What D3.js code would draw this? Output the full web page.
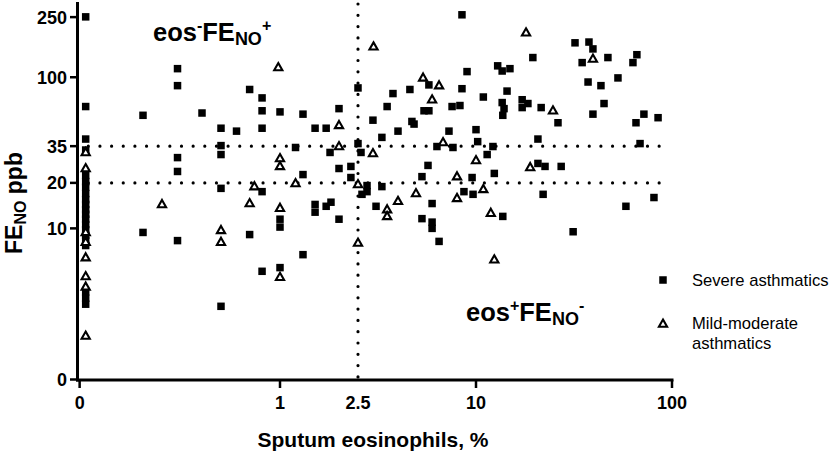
<!DOCTYPE html>
<html>
<head>
<meta charset="utf-8">
<script src="https://cdn.jsdelivr.net/npm/d3@7"></script>
<style>
  body { margin: 0; background: #fff; }
  text { font-family: "Liberation Sans", Arial, sans-serif; fill: #000; }
</style>
</head>
<body>
<div id="chart"></div>
<script>
// sputum eosinophils (%) , FeNO (ppb) — 0 % plotted on the "0" column
const severe = [
  [0,251],[0,64],[0,39],[0,33],[0,22.4],[0,20.4],[0,18.7],[0,17],[0,15.5],[0,14.4],[0,13.3],
  [0,12.4],[0,11.5],[0,10.6],[0,9.8],[0,9.0],[0,8.3],[0,7.7],[0,3.8],[0,3.45],[0,3.15],
  [0.2,56],[0.3,114],[0.3,88],[0.4,58],[0.5,46],[0.6,44],[0.5,35.3],[0.5,30.8],[0.3,29.4],
  [0.3,23.8],[0.7,83],[0.81,73],[0.81,60],[0.81,46],[1,59],[0.5,18.4],[0.81,17.5],[0.2,9.4],
  [0.3,8.3],[0.7,9.1],[0.81,5.2],[0.5,3.05],[1,11.5],[1,10.2],[1,5.5],
  [1.31,57],[1.2,34.3],[1.31,22.7],[1.51,46],[1.72,46],[2,62],[1.8,31.8],[2,24.9],[2.3,25.7],
  [2.3,21.7],[2.5,85],[2.5,36.4],[2.59,31.8],[2.98,52],[3.31,40],[3.52,64],[3.77,78],[4,44],
  [4.6,83],[4.71,51],[4.83,49],[5.43,60],[5.75,60],[5.75,89],[6.32,34.8],[7.28,44],[7.63,34.3],
  [5.69,26.1],[5.3,22],[7.55,64],[8.28,65],[8.48,259],[9,109],[8.48,84],[10,45],[10.2,37.5],
  [10.9,74],[12.2,34.8],[11.4,30.8],[9.55,21.7],[12.4,23.1],[12.9,119],[13.6,110],[14.9,114],
  [14.4,81],[13.6,68],[13.9,62],[13.7,56],[17.2,71],[17.2,63],[18.4,67],[19.5,135],[21.5,63],
  [20.7,39],[20.7,26.9],[22.5,25.7],[22,16.8],[26.2,50],[27.2,25.7],
  [2.78,19.2],[2.78,17.5],[3.31,18.9],[2.62,16.8],[1.51,14.4],[1.51,12.8],[1.72,14],[1.82,14.9],
  [2,11.5],[1.31,6.7],[3.09,14],[5.3,11.6],[5.97,14.6],[5.97,11],[5.97,10],[6.48,8.2],
  [8.68,17.5],[9.66,16.8],[13.7,12],[31.3,9.5],
  [32,169],[37.7,171],[39.5,154],[34.8,125],[47.1,135],[66.2,141],[63.2,125],[37.3,93],
  [43.4,88],[53,99],[45,67],[39.5,57],[71.9,57],[65.5,50],[84.9,54],[68.7,36.4],[80.9,16],[58.2,14]
];

const mild = [
  [0,31.8],[0,24.9],[0,9.4],[0,8.1],[0,6.4],[0,4.8],[0,4.1],[0,1.94],
  [0.25,14.4],[0.5,9.7],[0.5,8.1],[0.7,14.6],[0.74,18.9],[0.98,116],[1,29],[1,25.7],[1,13.6],
  [1,4.75],[1.2,19.8],[2,48],[2,34.8],[2.98,31.3],[3,159],[2.5,19.5],[2.5,8],[3.52,13.3],
  [3.52,12],[4,15.1],[4.94,17],[5.37,99],[6.48,88],[5.97,71],[6.79,37],[10,28.1],[8,22],
  [8,15.8],[10.9,18.1],[11.9,12.6],[12.4,6.2],[18,197],[18.9,25.3],[24.7,60],[39.5,132]
];

const xTicks = [0, 1, 10, 100];
const xExtraLabels = [2.5];
const yTicks = [0, 10, 20, 35, 100, 250];
const fenoCutoffs = [20, 35];
const eosCutoff = 2.5;
const legendItems = ["Severe asthmatics", "Mild-moderate|asthmatics"];

//---------------------------------------------------------------------------------------
const width = 830, height = 459;

const svg = d3.select("#chart").append("svg")
  .attr("width", width).attr("height", height);

// échelles log ; le "0" est posé juste à gauche de 0.1 / à 1
const x = d3.scaleLog().domain([0.1, 100]).range([84, 672]);
const y = d3.scaleLog().domain([1, 310]).range([379.5, 3]);
const xPos = v => v === 0 ? x(0.102) : x(v);
const xTickPos = v => v === 0 ? x(0.095) : x(v);
const yPos = v => v === 0 ? y(1) : y(v);

// lignes de seuil en pointillés
svg.selectAll(".hcut").data(fenoCutoffs).join("line")
  .attr("x1", 88.3).attr("x2", 667)
  .attr("y1", d => y(d)).attr("y2", d => y(d))
  .attr("stroke", "#000").attr("stroke-width", 3.2)
  .attr("stroke-linecap", "round").attr("stroke-dasharray", "0 11.65");

svg.append("line")
  .attr("x1", x(eosCutoff)).attr("x2", x(eosCutoff))
  .attr("y1", 4).attr("y2", 378)
  .attr("stroke", "#000").attr("stroke-width", 3.2)
  .attr("stroke-linecap", "round").attr("stroke-dasharray", "0 11.3");

// axes
const axisG = svg.append("g");
axisG.append("line").attr("x1", 77.5).attr("x2", 77.5).attr("y1", 2).attr("y2", 381.5)
  .attr("stroke", "#000").attr("stroke-width", 3);
axisG.append("line").attr("x1", 76).attr("x2", 673.5).attr("y1", 380).attr("y2", 380)
  .attr("stroke", "#000").attr("stroke-width", 3);

axisG.selectAll(".ytick").data(yTicks).join("line")
  .attr("x1", 70).attr("x2", 77).attr("y1", d => yPos(d)).attr("y2", d => yPos(d))
  .attr("stroke", "#000").attr("stroke-width", 2.5);
axisG.selectAll(".ylab").data(yTicks).join("text")
  .attr("x", 67).attr("y", d => yPos(d) + 6.5)
  .attr("text-anchor", "end").attr("font-weight", "bold").attr("font-size", 18)
  .text(d => d);

axisG.selectAll(".xtick").data(xTicks).join("line")
  .attr("x1", d => xTickPos(d)).attr("x2", d => xTickPos(d)).attr("y1", 380).attr("y2", 388)
  .attr("stroke", "#000").attr("stroke-width", 2.5);
axisG.selectAll(".xlab").data(xTicks.concat(xExtraLabels)).join("text")
  .attr("x", d => xTickPos(d)).attr("y", 409)
  .attr("text-anchor", "middle").attr("font-weight", "bold").attr("font-size", 18)
  .text(d => d);

// titres d'axes
svg.append("text").attr("x", 373).attr("y", 447)
  .attr("text-anchor", "middle").attr("font-weight", "bold").attr("font-size", 21)
  .text("Sputum eosinophils, %");

const yl = svg.append("text")
  .attr("transform", "translate(22,203) rotate(-90)")
  .attr("text-anchor", "middle").attr("font-weight", "bold").attr("font-size", 23);
yl.append("tspan").text("FE");
yl.append("tspan").attr("font-size", 16).attr("dy", 4).text("NO");
yl.append("tspan").attr("dy", -4).text(" ppb");

// annotations de quadrants
function quadLabel(px, py, supA, supB) {
  const t = svg.append("text").attr("x", px).attr("y", py)
    .attr("font-weight", "bold").attr("font-size", 25.5);
  t.append("tspan").text("eos");
  t.append("tspan").attr("font-size", 16).attr("dy", -10).text(supA);
  t.append("tspan").attr("dy", 10).text("FE");
  t.append("tspan").attr("font-size", 18).attr("dy", 4).text("NO");
  t.append("tspan").attr("font-size", 16).attr("dy", -14).text(supB);
}
quadLabel(153, 41, "-", "+");
quadLabel(466, 321, "+", "-");

// symboles
const sq = 7.5;
const triPath = (cx, cy) => {
  const s = 8.2, h = 7.2;
  return `M${cx},${cy - h * 0.62}L${cx + s / 2},${cy + h * 0.38}L${cx - s / 2},${cy + h * 0.38}Z`;
};

svg.append("g").selectAll("rect").data(severe).join("rect")
  .attr("x", d => xPos(d[0]) - sq / 2).attr("y", d => yPos(d[1]) - sq / 2)
  .attr("width", sq).attr("height", sq).attr("fill", "#000");

svg.append("g").selectAll("path").data(mild).join("path")
  .attr("d", d => triPath(xPos(d[0]), yPos(d[1])))
  .attr("fill", "#fff").attr("stroke", "#000").attr("stroke-width", 2.1)
  .attr("stroke-linejoin", "miter");

// légende
const lg = svg.append("g");
lg.append("rect").attr("x", 663 - sq / 2).attr("y", 280 - sq / 2)
  .attr("width", sq).attr("height", sq).attr("fill", "#000");
lg.append("path").attr("d", triPath(663, 324))
  .attr("fill", "#fff").attr("stroke", "#000").attr("stroke-width", 2.1);
lg.append("text").attr("x", 692).attr("y", 286).attr("font-size", 16.6).text(legendItems[0]);
const l2 = lg.append("text").attr("x", 692).attr("y", 329).attr("font-size", 16.6);
legendItems[1].split("|").forEach((s, i) => {
  l2.append("tspan").attr("x", 692).attr("dy", i ? 20 : 0).text(s);
});
</script>
</body>
</html>
